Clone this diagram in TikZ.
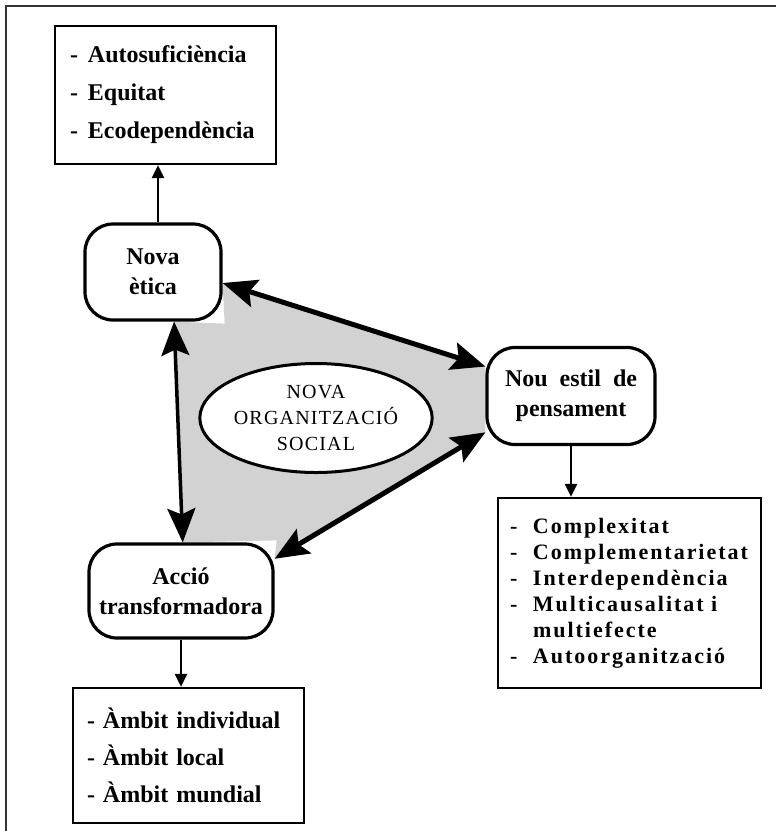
\documentclass[tikz,border=0pt]{standalone}
\usepackage{fontspec}
\setmainfont{Liberation Serif}
\newfontfamily\espaiat[LetterSpace=6]{Liberation Serif}
\newfontfamily\espaiatb[LetterSpace=9]{Liberation Serif}
\usepackage{tikz}
\usetikzlibrary{positioning,arrows.meta,shapes.geometric,backgrounds}
\newcommand{\guio}[1][18pt]{\makebox[#1][l]{-}}

\begin{document}
\begin{tikzpicture}[x=1pt,y=-1pt,
  idea/.style={draw, line width=3.2pt, rounded corners=28pt, fill=white, align=center, inner sep=0pt, font=\fontsize{24}{30}\selectfont\bfseries},
  llista/.style={draw, line width=2.2pt, fill=white, align=left, inner ysep=0pt},
  fletxa/.style={-{Triangle[length=13pt,width=12pt]}, line width=2.4pt},
  doble/.style={{Stealth[length=34pt,width=28pt,inset=6pt]}-{Stealth[length=34pt,width=28pt,inset=6pt]}, line width=5pt}]
\useasboundingbox (0,0) rectangle (776,831);
\draw[line width=2.2pt, black!80] (6,831) -- (6,6) -- (776,6);

\node[idea, minimum width=136pt, minimum height=96pt] (etica) at (153,272) {Nova\\ètica};
\node[idea, minimum width=168pt, minimum height=97pt] (estil) at (571,396) {Nou \ estil \ de\\pensament};
\node[idea, minimum width=184pt, minimum height=94pt] (accio) at (181,591) {Acció\\transformadora};
\node[ellipse, draw, line width=3pt, fill=white, minimum width=225pt, minimum height=109pt, inner sep=0pt, align=center, font=\espaiat\fontsize{20}{26}\selectfont] (societat) at (316,418) {NOVA\\ORGANITZACIÓ\\SOCIAL};

\node[llista, text width=191pt, inner xsep=15pt, minimum height=138pt, font=\fontsize{24}{38}\selectfont\bfseries] (valors) at (165.5,95) {\guio Autosuficiència\\\guio Equitat\\\guio Ecodependència};
\node[llista, text width=239pt, inner xsep=12pt, minimum height=190pt, font=\espaiatb\fontsize{22}{26}\selectfont\bfseries] (principis) at (629.5,593) {\guio[23pt]Complexitat\\\guio[23pt]Complementarietat\\\guio[23pt]Interdependència\\\guio[23pt]Multicausalitat i\\\hspace*{23pt}multiefecte\\\guio[23pt]Autoorganització};
\node[llista, text width=203pt, inner xsep=14pt, minimum height=135pt, font=\fontsize{24}{37}\selectfont\bfseries] (ambits) at (188.5,755.5) {\guio[16pt]Àmbit individual\\\guio[16pt]Àmbit local\\\guio[16pt]Àmbit mundial};

% zona grisa entre les tres idees
\begin{pgfonlayer}{background}
\fill[gray!35] (etica.-67) -- ([shift={(2,2)}]etica.south east) -- (etica.-9) -- (estil.161) -- (estil.-157) -- (accio.19) -- ([shift={(2,-2)}]accio.north east) -- (accio.88) -- cycle;
\end{pgfonlayer}

\draw[doble] (etica.-9) -- (estil.161);
\draw[doble] (estil.-157) -- (accio.19);
\draw[doble, line width=3.5pt] (etica.-67) -- (accio.88);

\draw[fletxa] ([xshift=5pt]etica.north) -- ([xshift=5pt]etica.north |- valors.south);
\draw[fletxa] (estil.south) -- (estil.south |- principis.north);
\draw[fletxa] (accio.south) -- (accio.south |- ambits.north);
\end{tikzpicture}
\end{document}
